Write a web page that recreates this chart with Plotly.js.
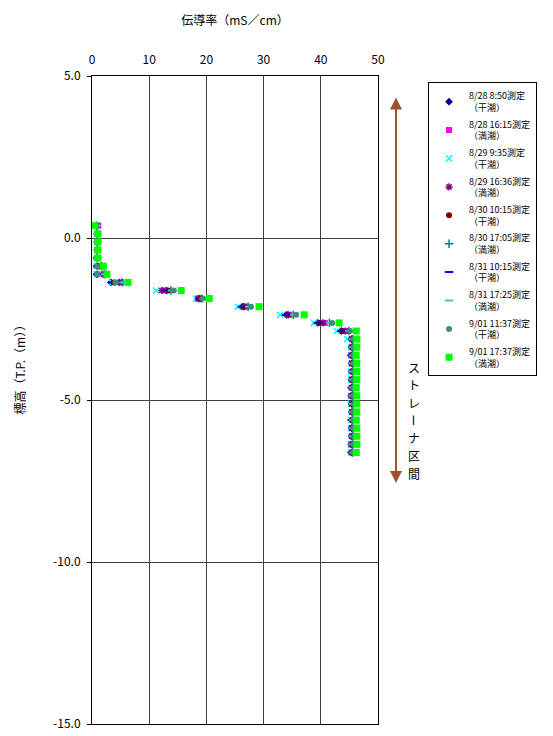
<!DOCTYPE html>
<html>
<head>
<meta charset="utf-8">
<script src="https://cdn.plot.ly/plotly-3.0.1.min.js"></script>
<style>html,body{margin:0;padding:0;background:#fff;}#chart{width:553px;height:736px;}</style>
</head>
<body>
<div id="chart"></div>
<script>
// Elevation (T.P. m) of each measurement level
const depth = [0.38, 0.13, -0.12, -0.37, -0.62, -0.87, -1.12, -1.37, -1.62, -1.87, -2.12, -2.37, -2.62, -2.87, -3.12, -3.37, -3.62, -3.87, -4.12, -4.37, -4.62, -4.87, -5.12, -5.37, -5.62, -5.87, -6.12, -6.37, -6.62];

const seriesNames = [
  "8/28 8:50測定<br>（干潮）",
  "8/28 16:15測定<br>（満潮）",
  "8/29 9:35測定<br>（干潮）",
  "8/29 16:36測定<br>（満潮）",
  "8/30 10:15測定<br>（干潮）",
  "8/30 17:05測定<br>（満潮）",
  "8/31 10:15測定<br>（干潮）",
  "8/31 17:25測定<br>（満潮）",
  "9/01 11:37測定<br>（干潮）",
  "9/01 17:37測定<br>（満潮）"
];

// Conductivity (mS/cm) per level
const c0828a = [null, null, null, null, null, 0.9, 0.9, 3.3, 13.0, 18.8, 26.3, 34.0, 39.5, 43.6, 45.4, 45.5, 45.4, 45.5, 45.5, 45.4, 45.5, 45.5, 45.4, 45.5, 45.5, 45.4, 45.5, 45.5, 45.4];
const c0828b = [1.1, 1.0, 1.0, 0.9, 0.9, 1.6, 2.1, 5.1, 12.6, 18.5, 26.8, 34.5, 40.7, 44.6, 45.5, 45.6, 45.5, 45.6, 45.6, 45.5, 45.6, 45.6, 45.5, 45.6, 45.6, 45.5, 45.6, 45.5, 45.6];
const c0829a = [null, null, null, null, null, 0.8, 0.9, 3.5, 11.2, 18.2, 25.5, 32.9, 38.8, 42.8, 44.6, 45.3, 45.3, 45.4, 45.3, 45.3, 45.4, 45.3, 45.3, 45.4, 45.3, 45.3, 45.4, 45.3, 45.3];
const c0829b = [0.8, 0.9, 0.9, 0.9, 0.9, 1.5, 2.0, 4.8, 12.2, 18.6, 26.6, 34.3, 40.4, 44.3, 45.4, 45.4, 45.3, 45.4, 45.5, 45.4, 45.4, 45.3, 45.4, 45.4, 45.5, 45.4, 45.4, 45.3, 45.4];
const c0830a = [null, null, null, null, null, 0.9, 0.9, 3.8, 13.3, 18.9, 26.4, 34.1, 39.7, 43.7, 45.5, 45.5, 45.5, 45.4, 45.5, 45.5, 45.5, 45.4, 45.5, 45.5, 45.5, 45.4, 45.5, 45.5, 45.5];
const c0830b = [0.8, 0.9, 1.0, 0.9, 0.9, 1.7, 2.2, 5.3, 13.8, 19.2, 27.3, 35.2, 41.5, 44.9, 45.6, 45.6, 45.6, 45.7, 45.6, 45.6, 45.6, 45.7, 45.6, 45.6, 45.6, 45.7, 45.6, 45.6, 45.6];
const c0831a = [null, null, null, null, null, 0.9, 0.9, 3.6, 13.0, 18.8, 26.2, 33.9, 39.5, 43.6, 45.5, 45.5, 45.4, 45.5, 45.5, 45.5, 45.4, 45.5, 45.5, 45.5, 45.4, 45.5, 45.5, 45.5, 45.4];
const c0831b = [0.8, 0.9, 1.0, 0.9, 0.9, 1.8, 2.3, 5.5, 14.0, 19.5, 27.5, 35.4, 41.7, 45.0, 45.6, 45.6, 45.7, 45.6, 45.6, 45.6, 45.7, 45.6, 45.6, 45.6, 45.7, 45.6, 45.6, 45.6, 45.7];
const c0901a = [null, null, null, null, 0.7, 0.9, 0.9, 4.1, 14.3, 19.4, 27.8, 35.7, 42.0, 45.1, 45.7, 45.7, 45.7, 45.7, 45.8, 45.7, 45.7, 45.7, 45.8, 45.7, 45.7, 45.7, 45.8, 45.7, 45.7];
const c0901b = [0.5, 1.05, 1.05, 1.0, 1.0, 2.0, 2.6, 6.3, 15.6, 20.5, 29.2, 37.1, 43.2, 46.2, 46.3, 46.3, 46.2, 46.3, 46.3, 46.3, 46.2, 46.3, 46.3, 46.3, 46.2, 46.3, 46.3, 46.3, 46.2];

const xTicks = [0, 10, 20, 30, 40, 50];
const yTickVals = [5, 0, -5, -10, -15];
const yTickText = ["5.0", "0.0", "-5.0", "-10.0", "-15.0"];

// Vertical label characters for the strainer section
const strainerChars = ["ス", "ト", "レ", "ー", "ナ", "区", "間"];

const values = [c0828a, c0828b, c0829a, c0829b, c0830a, c0830b, c0831a, c0831b, c0901a, c0901b];
const markerStyles = [
  {symbol: "diamond", color: "#000080", size: 6},
  {symbol: "square", color: "#FF00FF", size: 6},
  {symbol: "x-thin-open", color: "#00FFFF", size: 6, line: {width: 1.5, color: "#00FFFF"}},
  {symbol: "asterisk-open", color: "#800080", size: 6, line: {width: 1.5, color: "#800080"}},
  {symbol: "circle", color: "#800000", size: 6},
  {symbol: "cross-thin-open", color: "#008080", size: 6, line: {width: 1.5, color: "#008080"}},
  {symbol: "line-ew-open", color: "#0000FF", size: 6, line: {width: 2, color: "#0000FF"}},
  {symbol: "line-ew-open", color: "#33CCCC", size: 6, line: {width: 2, color: "#33CCCC"}},
  {symbol: "circle", color: "#3B8C78", size: 6},
  {symbol: "square", color: "#00FF00", size: 7}
];

const font = "'Noto Sans CJK JP', 'Noto Sans', sans-serif";

const traces = values.map((v, i) => ({
  type: "scatter",
  mode: "markers",
  x: v,
  y: depth,
  name: seriesNames[i],
  legendgroup: "g" + i,
  marker: markerStyles[i],
  cliponaxis: false
}));

const annotations = [
  {xref: "paper", yref: "y", x: -0.29, y: -3.98, text: "標高（T.P.（m））", textangle: -90,
   showarrow: false, font: {size: 12, family: font}},
  {xref: "paper", yref: "y", x: 1.063, y: -7.56, ax: 0, ay: -387, axref: "pixel", ayref: "pixel",
   text: "", showarrow: true, arrowside: "end+start", arrowhead: 2, startarrowhead: 2,
   arrowsize: 1.2, startarrowsize: 1.2, arrowwidth: 2, arrowcolor: "#A0522D"}
];
strainerChars.forEach((ch, i) => {
  annotations.push({
    xref: "paper", yref: "paper", x: 1.125, y: 1 - (367 + i * 17.7 - 76) / 648,
    xanchor: "center", yanchor: "middle",
    text: ch, textangle: ch === "ー" ? 90 : 0,
    showarrow: false, font: {size: 12, family: font}
  });
});

const layout = {
  width: 553,
  height: 736,
  paper_bgcolor: "#ffffff",
  plot_bgcolor: "#ffffff",
  margin: {l: 92, r: 175, t: 76, b: 12},
  font: {family: font, size: 12, color: "#000"},
  showlegend: true,
  legend: {
    x: 1.175, xanchor: "left", y: 0.99, yanchor: "top",
    bordercolor: "#000", borderwidth: 1, bgcolor: "#fff",
    font: {family: font, size: 9, color: "#000"},
    itemwidth: 30, tracegroupgap: 2
  },
  xaxis: {
    side: "top",
    range: [0, 50],
    tickvals: xTicks,
    showgrid: true, gridcolor: "#404040", gridwidth: 1,
    showline: true, mirror: true, linecolor: "#000", linewidth: 1,
    zeroline: false, ticks: "", ticklabelstandoff: 6,
    tickfont: {size: 12, family: font},
    title: {text: "伝導率（mS／cm）", font: {size: 12, family: font}, standoff: 22}
  },
  yaxis: {
    range: [-15, 5],
    tickvals: yTickVals, ticktext: yTickText,
    showgrid: true, gridcolor: "#404040", gridwidth: 1,
    showline: true, mirror: true, linecolor: "#000", linewidth: 1,
    zeroline: false, ticks: "outside", ticklen: 4, tickcolor: "#000",
    ticklabelstandoff: 4,
    tickfont: {size: 12, family: font}
  },
  annotations: annotations
};

Plotly.newPlot("chart", traces, layout, {staticPlot: true, displayModeBar: false});
</script>
</body>
</html>
